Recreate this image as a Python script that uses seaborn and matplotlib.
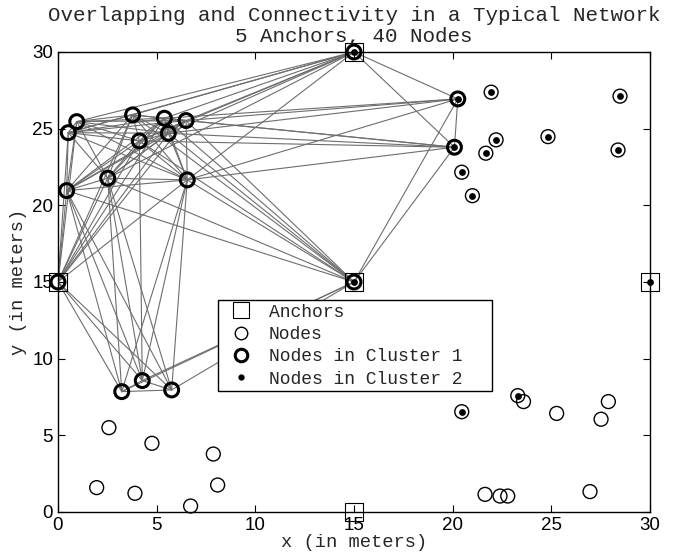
import itertools

import matplotlib
matplotlib.use("Agg")
import matplotlib.pyplot as plt
from matplotlib.lines import Line2D
import numpy as np
import pandas as pd
import seaborn as sns

# Anchor positions (meters) and their cluster membership
anchor_x = [0, 15, 15, 30, 15]
anchor_y = [15, 30, 15, 15, 0]
anchor_in_c1 = [True, True, True, False, False]
anchor_in_c2 = [False, True, True, True, False]

# Sensor node positions (meters)
node_x = [0.52, 0.95, 3.78, 5.39, 6.49, 4.12, 5.59, 0.44, 2.52, 6.55,
          20.26, 20.09, 3.23, 4.27, 5.76,
          21.95, 22.20, 21.68, 20.46, 21.00, 24.83, 28.48, 28.38, 20.46, 23.30,
          2.58, 4.76, 7.87, 1.96, 3.90, 8.09, 6.72,
          23.59, 25.27, 27.89, 27.52, 21.64, 22.40, 22.79, 26.96]
node_y = [24.74, 25.46, 25.90, 25.68, 25.53, 24.20, 24.70, 20.96, 21.77, 21.66,
          26.94, 23.79, 7.85, 8.57, 7.96,
          27.38, 24.27, 23.40, 22.16, 20.63, 24.48, 27.12, 23.61, 6.54, 7.59,
          5.50, 4.48, 3.78, 1.59, 1.22, 1.76, 0.39,
          7.20, 6.43, 7.20, 6.05, 1.15, 1.04, 1.04, 1.33]
node_in_c1 = [True] * 15 + [False] * 25
node_in_c2 = [False] * 10 + [True, True] + [False] * 3 + [True] * 10 + [False] * 15

# Radio range used to link members of cluster 1
RADIO_RANGE = 16.0

anchors = pd.DataFrame({"x": anchor_x, "y": anchor_y,
                        "c1": anchor_in_c1, "c2": anchor_in_c2, "anchor": True})
nodes = pd.DataFrame({"x": node_x, "y": node_y,
                      "c1": node_in_c1, "c2": node_in_c2, "anchor": False})
everything = pd.concat([anchors, nodes], ignore_index=True)

# Links between cluster-1 members within radio range (anchor pairs excluded)
members = everything[everything["c1"]]
rows = []
edge_id = 0
for (i, a), (j, b) in itertools.combinations(members.iterrows(), 2):
    if a["anchor"] and b["anchor"]:
        continue
    if np.hypot(a["x"] - b["x"], a["y"] - b["y"]) <= RADIO_RANGE:
        rows.append({"edge": edge_id, "x": a["x"], "y": a["y"]})
        rows.append({"edge": edge_id, "x": b["x"], "y": b["y"]})
        edge_id += 1
edges = pd.DataFrame(rows)

sns.set_style("ticks")
mono = ["Liberation Mono", "DejaVu Sans Mono"]
plt.rcParams["font.family"] = mono
plt.rcParams["xtick.direction"] = "in"
plt.rcParams["ytick.direction"] = "in"

fig = plt.figure(figsize=(6.86, 5.53), dpi=100)
ax = fig.add_axes([58 / 686, 1 - 512 / 553, 592 / 686, 460 / 553])

sns.lineplot(data=edges, x="x", y="y", units="edge", estimator=None, sort=False,
             color="#6e6e6e", linewidth=0.8, ax=ax, legend=False)

# Anchors
sns.scatterplot(data=anchors, x="x", y="y", marker="s", s=150, facecolor="none",
                edgecolor="black", linewidth=0.8, ax=ax, clip_on=False, zorder=3)
# All nodes
sns.scatterplot(data=nodes, x="x", y="y", marker="o", s=100, facecolor="none",
                edgecolor="black", linewidth=1.0, ax=ax, clip_on=False, zorder=3)
# Cluster 1 members
c1 = everything[everything["c1"]]
sns.scatterplot(data=c1, x="x", y="y", marker="o", s=100, facecolor="none",
                edgecolor="black", linewidth=2.2, ax=ax, clip_on=False, zorder=4)
# Cluster 2 members
c2 = everything[everything["c2"]]
sns.scatterplot(data=c2, x="x", y="y", marker="o", s=24, color="black",
                edgecolor="black", linewidth=0, ax=ax, clip_on=False, zorder=5)

ax.set_xlim(0, 30)
ax.set_ylim(0, 30)
ax.set_xticks(np.arange(0, 31, 5))
ax.set_yticks(np.arange(0, 31, 5))
ax.tick_params(axis="both", which="both", direction="in", top=True, right=True,
               length=5, width=0.8, labelsize=13.5, colors="black")
for lbl in ax.get_xticklabels() + ax.get_yticklabels():
    lbl.set_fontfamily(["Liberation Sans", "DejaVu Sans"])
for side in ["top", "right", "bottom", "left"]:
    ax.spines[side].set_visible(True)
    ax.spines[side].set_linewidth(1.0)
    ax.spines[side].set_color("black")

ax.set_xlabel("x (in meters)", fontsize=13.5, family=mono, labelpad=0)
ax.set_ylabel("y (in meters)", fontsize=13.5, family=mono, labelpad=4)
ax.set_title("Overlapping and Connectivity in a Typical Network\n5 Anchors, 40 Nodes",
             fontsize=15, family=mono, pad=7.5, linespacing=1.1)

handles = [
    Line2D([], [], linestyle="none", marker="s", markersize=11,
           markerfacecolor="none", markeredgecolor="black", markeredgewidth=0.8),
    Line2D([], [], linestyle="none", marker="o", markersize=9,
           markerfacecolor="none", markeredgecolor="black", markeredgewidth=1.0),
    Line2D([], [], linestyle="none", marker="o", markersize=9,
           markerfacecolor="none", markeredgecolor="black", markeredgewidth=2.2),
    Line2D([], [], linestyle="none", marker="o", markersize=3.5,
           markerfacecolor="black", markeredgecolor="black"),
]
labels = ["Anchors", "Nodes", "Nodes in Cluster 1", "Nodes in Cluster 2"]
leg = ax.legend(handles, labels, loc="upper left",
                bbox_to_anchor=(0.2703, 0.2, 0.4628, 0.261), mode="expand",
                borderaxespad=0, frameon=True, fancybox=False, framealpha=1,
                edgecolor="black", prop={"family": mono, "size": 13},
                labelspacing=0.3, handletextpad=0.4, handlelength=2.2,
                borderpad=0.2)
leg.get_frame().set_linewidth(1.0)
leg.set_zorder(6)

fig.savefig("out.png", dpi=100)
